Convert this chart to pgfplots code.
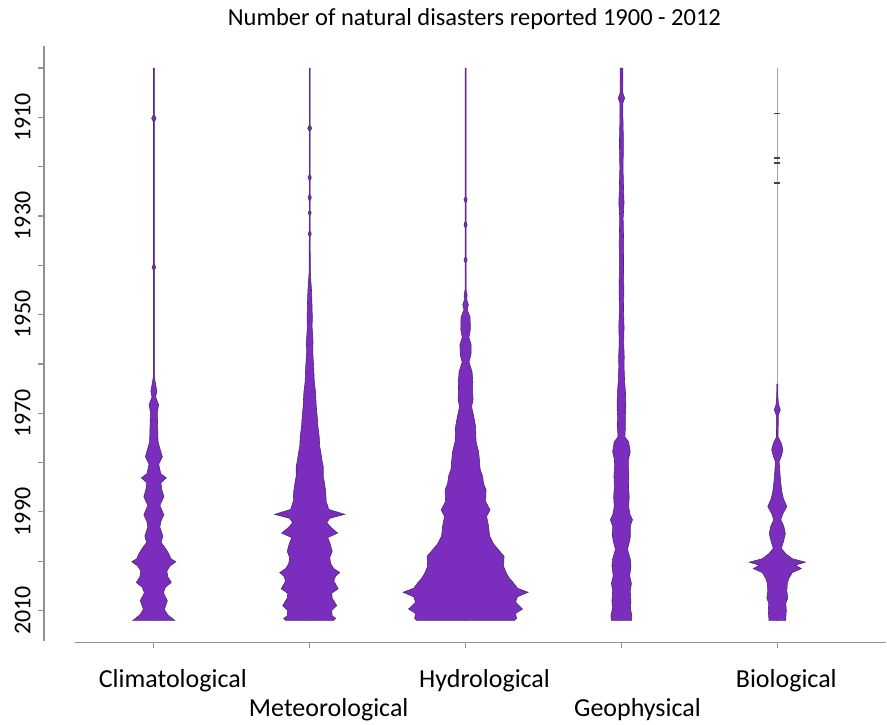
\documentclass[border=0pt]{standalone}
\usepackage{fontspec}
\setmainfont{Carlito}
\usepackage{pgfplots}
\usepackage{pgfplotstable}
\pgfplotsset{compat=1.18}
\definecolor{beanfill}{RGB}{123,45,190}
\definecolor{beanedge}{RGB}{78,40,110}
\definecolor{axisgray}{RGB}{145,145,145}
\definecolor{lightline}{RGB}{165,165,165}
\definecolor{darkline}{RGB}{70,65,75}

% half-widths in pixels (1 category unit = 156 px); end rows close on the centre line
\pgfplotstableread{
y w
1900 -0.5
1900 0.4
1909.5 0.4
1910.2 2.2
1910.9 0.4
1939.8 0.4
1940.4 1.8
1941.0 0.4
1962.6 0.5
1964.2 1.8
1965.5 3
1966.7 1.8
1968.3 4.8
1969.7 3.4
1972.7 3.8
1975.8 4.2
1977.8 7
1978.8 8.5
1980.3 4.8
1982.3 7
1983.1 12.5
1984.1 7
1985.5 8
1986.9 10
1988.7 6
1990.6 10
1991.9 7
1993.1 6
1994.9 9
1996.2 7.2
1997.5 12
1998.5 15
1999.5 17
2000.1 22
2001.0 16
2002.0 13
2003.2 14
2004.3 17.5
2005.3 11.5
2006.4 9.5
2008.0 13.5
2009.8 10.5
2010.9 14
2011.7 19
2012 21
2012 -0.5
}\clim

\pgfplotstableread{
y w
1900 -0.5
1900 0.4
1911.6 0.4
1912.2 2
1912.8 0.4
1921.6 0.4
1922.2 1.6
1922.8 0.4
1925.6 0.4
1926.3 1.6
1926.9 0.4
1928.9 0.4
1929.3 1.5
1929.9 0.4
1933.1 0.4
1933.6 1.6
1934.2 0.4
1941.4 0.6
1943.4 1.2
1945.0 1.8
1947.5 2.2
1950.5 2.6
1952.5 2.4
1955.6 3.3
1957.6 3
1960.6 4
1963.7 4.6
1965.7 5.8
1968.7 6.6
1970.7 7.5
1972.7 8.2
1974.8 9.5
1976.8 10
1977.8 11
1979.8 12.5
1980.8 13.5
1982.8 13.5
1983.8 14.5
1985.9 16
1987.9 16.5
1989.5 19
1990.5 35
1991.3 20
1992.2 17
1993.3 22
1994.3 28
1995.2 18
1996.5 20.5
1998.0 22.5
1999.3 20
2000.5 21
2001.5 24
2002.3 30
2003.0 26
2004.0 24
2005.6 28.5
2006.5 22
2007.5 22.5
2009.0 27
2010.0 22
2011.1 22.5
2011.6 26
2012 24
2012 -0.5
}\meteo

\pgfplotstableread{
y w
1900 -0.5
1900 0.4
1926.1 0.4
1926.7 1.6
1927.3 0.4
1931.1 0.4
1931.8 1.6
1932.4 0.4
1938.3 0.4
1938.9 1.6
1939.5 0.4
1945.0 0.5
1946.0 1.5
1947.0 1.2
1948.0 2.8
1949.0 1.6
1950.5 4.5
1953.0 4.8
1954.6 3.3
1956.1 5.6
1958.1 5.4
1959.6 3.4
1961.6 6.5
1963.6 7.2
1965.7 7
1967.2 7.5
1968.7 6
1970.7 8.2
1972.7 10
1975.8 10.5
1977.8 13
1979.8 14
1981.3 14.5
1982.8 17
1984.3 18
1985.5 20.5
1987.9 20
1989.6 24.5
1990.9 21
1992.9 23
1994.9 24
1996.5 28
1997.7 33
1999.0 38.5
2001.0 38
2002.3 40.5
2003.5 44
2004.3 47.5
2005.5 52
2006.3 62.5
2007.2 52
2008.3 50
2009.7 57
2010.6 50
2011.6 51
2012 49
2012 -0.5
}\hydro

\pgfplotstableread{
y w
1900 -0.5
1900 1.3
1905.1 1.4
1906.1 3.2
1907.1 1.4
1910.2 1.5
1915.2 2
1920.3 1.6
1925.3 2.2
1927.3 2.6
1930.4 1.7
1935.4 2.2
1940.4 2
1945.5 2.4
1948.5 2
1952.6 2.6
1955.6 2.2
1958.6 2.8
1960.6 2.6
1963.7 3.2
1965.7 4
1968.7 4.4
1970.7 3.8
1972.7 4
1974.8 3.4
1975.8 7.2
1977.8 8.8
1979.4 7
1980.8 6.8
1982.8 7.5
1984.9 7
1986.9 7.8
1988.9 7.2
1990.5 8.5
1991.6 11
1992.9 8.8
1994.9 9
1995.9 8.2
1997.6 6
1999.7 9
2001.0 9.5
2003.0 8.2
2004.5 10
2006.0 8.8
2008.0 9.5
2009.6 9
2011.1 10.5
2012 10
2012 -0.5
}\geo

\pgfplotstableread{
y w
1964.1 -0.5
1964.1 0.4
1966.7 0.6
1968.2 1.2
1969.3 3
1970.4 1
1974.8 0.8
1976.1 4
1977.4 5.6
1978.7 4
1979.8 1.8
1981.8 2.5
1983.8 3.3
1985.9 4.5
1987.4 6.2
1988.9 9.5
1990.4 5.5
1991.6 3.5
1992.9 6.5
1994.4 8
1995.9 6.3
1997.4 4
1998.5 8.5
1999.5 15
2000.2 28
2000.8 18
2001.5 24
2002.3 15
2003.5 11.5
2004.5 10
2006.0 9.5
2007.5 10.5
2008.5 8.5
2010.0 9
2011.5 8.5
2012 8.5
2012 -0.5
}\bio

\newcommand{\bean}[2]{% #1 table, #2 centre
  \addplot[fill=beanfill, draw=none] table[x expr=#2+\thisrow{w}/156, y=y] {#1};
  \addplot[fill=beanfill, draw=none] table[x expr=#2-\thisrow{w}/156, y=y] {#1};
  \addplot[beanedge, line width=0.6pt] table[x expr=#2+\thisrow{w}/156, y=y] {#1};
  \addplot[beanedge, line width=0.6pt] table[x expr=#2-\thisrow{w}/156, y=y] {#1};
}

\begin{document}
\begin{tikzpicture}
\begin{axis}[
  scale only axis, width=843pt, height=597pt,
  at={(0,0)}, anchor=south west,
  xmin=0.295, xmax=5.699,
  ymin=1895.52, ymax=2016.48, y dir=reverse,
  axis x line*=bottom, axis y line*=left,
  axis line style={draw=none},
  clip=false,
  tick align=outside,
  major tick length=6pt,
  tick style={axisgray, line width=1.2pt},
  xtick={1,3,5},
  xticklabels={Climatological,Hydrological,\hspace*{-20pt}Biological},
  extra x ticks={2,4},
  extra x tick labels={Meteorological,\hspace*{-6pt}Geophysical},
  extra x tick style={xticklabel style={yshift=-30pt}},
  xticklabel style={font=\fontsize{26}{31}\selectfont, yshift=-17pt, xshift=19pt},
  ytick={1900,1910,...,2010},
  yticklabels={,1910,,1930,,1950,,1970,,1990,,2010},
  yticklabel style={font=\fontsize{24}{29}\selectfont, xshift=-7.7pt, rotate=90, anchor=base},
]
% axis lines
\draw[axisgray, line width=1.5pt] (axis cs:0.295,1895.52) -- (axis cs:0.295,2016.2);
\draw[axisgray, line width=1.5pt] (axis cs:0.4936,2016.48) -- (axis cs:5.699,2016.48);
% bean centre lines
\addplot[darkline, line width=1pt] coordinates {(1,1900) (1,2012)};
\addplot[darkline, line width=1pt] coordinates {(2,1900) (2,2012)};
\addplot[darkline, line width=1pt] coordinates {(3,1900) (3,2012)};
\addplot[darkline, line width=1pt] coordinates {(4,1900) (4,2012)};
\addplot[lightline, line width=1.5pt] coordinates {(5,1900) (5,2012)};
\bean{\clim}{1}
\bean{\meteo}{2}
\bean{\hydro}{3}
\bean{\geo}{4}
\bean{\bio}{5}
\addplot[only marks, mark=-, mark size=3pt, mark options={line width=1.5pt}, darkline]
  coordinates {(5,1909.2) (5,1918.2) (5,1919.3) (5,1923.3)};
\node[anchor=base, font=\fontsize{24.5}{29}\selectfont] at (rel axis cs:0.511,1) [yshift=20pt] {Number of natural disasters reported 1900 - 2012};
\end{axis}
\useasboundingbox (-44pt,-79pt) rectangle (843pt,643pt);
\end{tikzpicture}
\end{document}
